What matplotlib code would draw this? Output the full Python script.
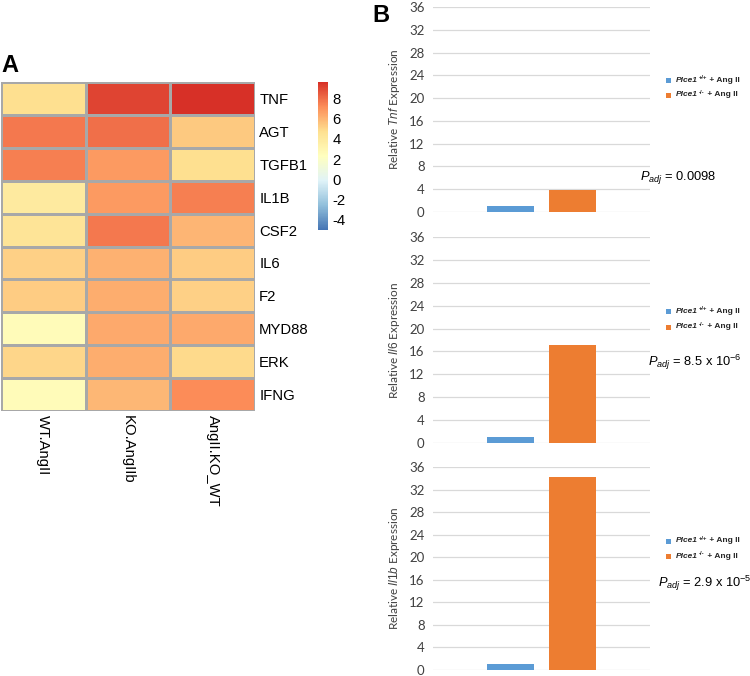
import numpy as np
import matplotlib
matplotlib.use("Agg")
import matplotlib.pyplot as plt
from matplotlib.colors import LinearSegmentedColormap
from matplotlib.patches import Rectangle
from matplotlib.text import Annotation

plt.rcParams["axes.unicode_minus"] = False
plt.rcParams["mathtext.fontset"] = "custom"
plt.rcParams["mathtext.rm"] = "Liberation Sans"
plt.rcParams["mathtext.it"] = "Liberation Sans:italic"
plt.rcParams["mathtext.bf"] = "Liberation Sans:bold"

# ---------------- data ----------------
genes = ["TNF", "AGT", "TGFB1", "IL1B", "CSF2", "IL6", "F2", "MYD88", "ERK", "IFNG"]
conditions = ["WT.AngII", "KO.AngIIb", "AngII.KO_WT"]
wt_angii = [4.7, 7.7, 7.5, 3.9, 4.4, 5.2, 5.3, 2.6, 5.0, 2.6]
ko_angiib = [9.05, 7.9, 6.8, 6.8, 7.7, 6.1, 6.2, 6.3, 6.2, 5.9]
angii_ko_wt = [9.6, 5.4, 4.7, 7.5, 6.0, 5.3, 5.2, 6.3, 4.9, 7.2]
cbar_ticks = [-4, -2, 0, 2, 4, 6, 8]
vmin, vmax = -5.0, 9.6

group_gene = "Plce1"
group_genotypes = ["+/+", "-/-"]
group_suffix = " + Ang II"
tnf_vals = [1.0, 3.8]
il6_vals = [1.0, 17.2]
il1b_vals = [1.0, 34.3]
bar_yticks = [0, 4, 8, 12, 16, 20, 24, 28, 32, 36]
genes_b = ["Tnf", "Il6", "Il1b"]
pvals = [r"$P_{adj}$ = 0.0098", r"$P_{adj}$ = 8.5 x 10$^{-6}$", r"$P_{adj}$ = 2.9 x 10$^{-5}$"]

# ---------------- figure ----------------
W, H = 750, 676
fig = plt.figure(figsize=(W / 100, H / 100), dpi=100)

def px_axes(x0, y0, x1, y1):
    return fig.add_axes([x0 / W, 1 - y1 / H, (x1 - x0) / W, (y1 - y0) / H])

# heatmap
cmap = LinearSegmentedColormap.from_list(
    "rdylbu7", ["#4575B4", "#91BFDB", "#E0F3F8", "#FFFFBF", "#FEE090", "#FC8D59", "#D73027"])
data = np.array([wt_angii, ko_angiib, angii_ko_wt]).T
axh = px_axes(1, 82, 255, 411)
mesh = axh.pcolormesh(np.arange(len(conditions) + 1), np.arange(len(genes) + 1), data,
                      cmap=cmap, vmin=vmin, vmax=vmax, edgecolors="#a8a8a8", linewidth=0.9)
axh.set_xlim(0, len(conditions))
axh.set_ylim(len(genes), 0)
for s in axh.spines.values():
    s.set_visible(False)
axh.yaxis.tick_right()
axh.set_yticks(np.arange(len(genes)) + 0.5)
axh.set_yticklabels(genes, fontsize=11.5, family="Liberation Sans")
axh.set_xticks(np.arange(len(conditions)) + 0.5)
axh.set_xticklabels(conditions, rotation=270, fontsize=11.5, family="Liberation Sans", va="top")
axh.tick_params(length=0, pad=3)
fig.text(1 / W, 1 - 72 / H, "A", fontsize=17, fontweight="bold", family="Liberation Sans")

axc = px_axes(318, 82, 328, 230)
cb = fig.colorbar(mesh, cax=axc, ticks=cbar_ticks)
cb.outline.set_visible(False)
cb.ax.tick_params(length=0, labelsize=11.5, pad=3)
for t in cb.ax.get_yticklabels():
    t.set_family("Liberation Sans")

# panel B bar charts
fig.text(372 / W, 1 - 22 / H, "B", fontsize=17, fontweight="bold", family="Liberation Sans")
bar_colors = ["#5B9BD5", "#ED7D31"]
panels = [(7, 212, tnf_vals, (80, 95), 177), (237, 443, il6_vals, (311, 327), 362),
          (467, 670, il1b_vals, (541, 556), 583)]
px_starts = [640, 648, 658]
leg_texts = []
p_texts = []
ylabels = []
bar_axes = []
for i, (ytop, ybot, vals, legys, py) in enumerate(panels):
    ax = px_axes(433, ytop, 650, ybot)
    bar_axes.append(ax)
    ax.bar([0, 1], vals, width=0.77, color=bar_colors, zorder=3)
    ax.set_xlim(-1.25, 2.25)
    ax.set_ylim(0, 36)
    ax.set_yticks(bar_yticks)
    ax.set_xticks([])
    ax.grid(axis="y", color="#d9d9d9", linewidth=0.9, zorder=0)
    for s in ax.spines.values():
        s.set_visible(False)
    ax.tick_params(axis="y", length=0, labelsize=9.5, pad=6, labelcolor="#404040")
    for t in ax.get_yticklabels():
        t.set_family("Lato")
    yl = ax.set_ylabel("Relative $\\it{" + genes_b[i] + "}$ Expression", fontsize=9.5,
                       family="Lato", color="#404040", labelpad=5)
    ylabels.append(yl)
    # legend (manual, to get bold-italic gene name with superscript genotype)
    for c, gt, ly in zip(bar_colors, group_genotypes, legys):
        fig.add_artist(Rectangle((666 / W, 1 - (ly + 2.5) / H), 5 / W, 5 / H,
                                 transform=fig.transFigure, color=c, lw=0))
        t1 = fig.text(676 / W, 1 - ly / H, group_gene, fontsize=6.2, fontweight="bold",
                      fontstyle="italic", family="Liberation Sans", va="center", ha="left",
                      color="#262626")
        t2 = fig.add_artist(Annotation(
            gt, xy=(1.05, 0.45), xycoords=t1, va="bottom", ha="left", fontsize=4.3,
            fontweight="bold", family="Liberation Sans", color="#262626"))
        t3 = fig.add_artist(Annotation(
            group_suffix, xy=(1.0, 0.5), xycoords=(t2, t1), va="center", ha="left",
            fontsize=6.2, fontweight="bold", family="Liberation Sans", color="#262626"))
        leg_texts.append((t1, t2, t3))
    p_texts.append(fig.text(px_starts[i] / W, 1 - py / H, pvals[i], fontsize=9.7,
                            family="Liberation Sans", va="center", ha="left"))

# ---- fit text sizes to the widths measured on the reference ----
fig.canvas.draw()
r = fig.canvas.get_renderer()

# heatmap labels: "TGFB1" is ~48 px wide
w = axh.get_yticklabels()[2].get_window_extent(r).width
hs = 11.5 * 48.0 / w
for t in axh.get_yticklabels() + axh.get_xticklabels() + cb.ax.get_yticklabels():
    t.set_fontsize(hs)

# legend: text spans ~64 px
t1, t2, t3 = leg_texts[0]
w = t3.get_window_extent(r).x1 - t1.get_window_extent(r).x0
f = 64.0 / w
for (a, b, c) in leg_texts:
    for t in (a, b, c):
        t.set_fontsize(t.get_fontsize() * f)

# p-values: first one spans ~77 px
w = p_texts[0].get_window_extent(r).width
ps = 9.7 * 77.0 / w
for t in p_texts:
    t.set_fontsize(ps)

# y labels: ~122 px tall
h = ylabels[0].get_window_extent(r).height
ys = 9.5 * 122.0 / h
for t in ylabels:
    t.set_fontsize(ys)

fig.savefig("out.png", dpi=100)
